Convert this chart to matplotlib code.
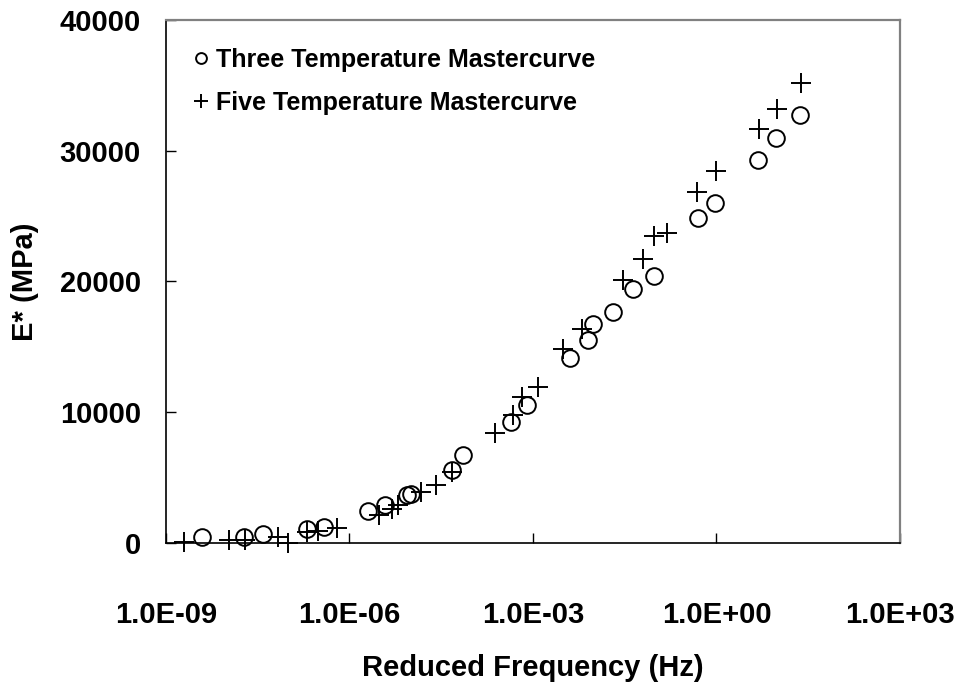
import matplotlib.pyplot as plt
from matplotlib.ticker import FixedLocator, NullLocator

plt.rcParams['font.family'] = ['Liberation Sans', 'DejaVu Sans']
plt.rcParams['font.weight'] = 'bold'

# three temperature mastercurve: reduced frequency (Hz), E* (MPa)
freq_three = [3.9e-9, 1.9e-8, 3.9e-8, 2.0e-7, 3.8e-7, 2.0e-6, 3.8e-6, 8.7e-6, 1.0e-5,
              4.8e-5, 7.2e-5, 4.4e-4, 7.9e-4, 4.0e-3, 7.9e-3, 9.5e-3, 2.0e-2,
              4.3e-2, 9.5e-2, 0.5, 0.95, 4.8, 9.3, 22.9]
e_three = [460, 460, 690, 1070, 1220, 2450, 2900, 3700, 3750,
           5580, 6730, 9250, 10550, 14150, 15530, 16750, 17670,
           19430, 20420, 24860, 26000, 29290, 30970, 32730]

# five temperature mastercurve
freq_five = [2.0e-9, 1.07e-8, 1.95e-8, 6.8e-8, 9.8e-8, 2.04e-7, 3.1e-7, 6.3e-7,
             3.0e-6, 5.0e-6, 6.3e-6, 1.48e-5, 2.57e-5, 4.8e-5, 2.4e-4, 4.7e-4,
             6.6e-4, 1.2e-3, 3.1e-3, 6.3e-3, 2.95e-2, 6.3e-2, 9.5e-2, 0.155,
             0.48, 0.98, 4.9, 9.8, 24.0]
e_five = [100, 230, 230, 460, 0, 840, 920, 1150,
          2140, 2600, 2900, 3900, 4440, 5430, 8410, 9790,
          11170, 11930, 14840, 16370, 20110, 21720, 23480, 23710,
          26850, 28450, 31660, 33190, 35180]

x_ticks = [1e-9, 1e-6, 1e-3, 1e0, 1e3]
x_labels = ['1.0E-09', '1.0E-06', '1.0E-03', '1.0E+00', '1.0E+03']
y_ticks = [0, 10000, 20000, 30000, 40000]

fig = plt.figure(figsize=(9.61, 6.87), dpi=100)
ax = fig.add_axes([0.1727, 0.2096, 0.7638, 0.7613])

ax.plot(freq_three, e_three, linestyle='none', marker='o', markersize=12,
        markerfacecolor='none', markeredgecolor='black', markeredgewidth=1.4,
        clip_on=False, label='Three Temperature Mastercurve')
ax.plot(freq_five, e_five, linestyle='none', marker='+', markersize=15,
        markeredgecolor='black', markeredgewidth=1.4,
        clip_on=False, label='Five Temperature Mastercurve')

ax.set_xscale('log')
ax.set_xlim(1e-9, 1e3)
ax.set_ylim(0, 40000)
ax.xaxis.set_major_locator(FixedLocator(x_ticks))
ax.xaxis.set_minor_locator(NullLocator())
ax.set_xticklabels(x_labels)
ax.set_yticks(y_ticks)
ax.set_yticklabels([str(v) for v in y_ticks])

ax.tick_params(axis='both', direction='in', length=7, width=1, labelsize=21)
ax.tick_params(axis='x', pad=42)
ax.tick_params(axis='y', pad=18)
for lbl in ax.get_xticklabels() + ax.get_yticklabels():
    lbl.set_fontweight('bold')

ax.spines['left'].set_linewidth(1.2)
ax.spines['bottom'].set_linewidth(1.2)
for side in ('top', 'right'):
    ax.spines[side].set_color('#808080')
    ax.spines[side].set_linewidth(1.6)

ax.set_xlabel('Reduced Frequency (Hz)', fontsize=21, fontweight='bold', labelpad=18)
ax.set_ylabel('E* (MPa)', fontsize=21, fontweight='bold', labelpad=15)

ax.legend(loc='upper left', frameon=False, markerscale=0.65,
          handlelength=0.6, handletextpad=0.3, labelspacing=0.75,
          borderaxespad=0.72, prop={'weight': 'bold', 'size': 18})

fig.savefig('out.png', dpi=100)
